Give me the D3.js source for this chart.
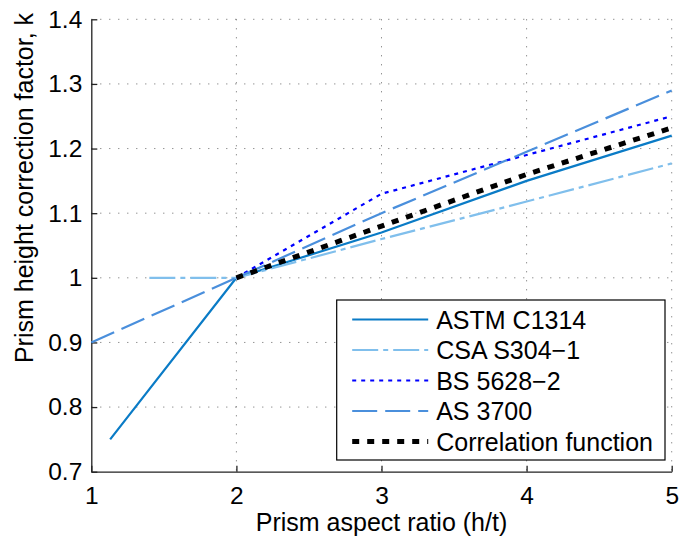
<!DOCTYPE html>
<html>
<head>
<meta charset="utf-8">
<script src="https://cdn.jsdelivr.net/npm/d3@7"></script>
<style>
    body { margin: 0; background: #fff; }
    svg { font-family: "Liberation Sans", Arial, sans-serif; }
</style>
</head>
<body>
<div class="chart"></div>
<script>
        // data
        var xTicks = [1, 2, 3, 4, 5];
        var yTicks = [0.7, 0.8, 0.9, 1.0, 1.1, 1.2, 1.3, 1.4];

        var astmX = [1.13, 2, 3, 4, 5];
        var astmY = [0.75, 1.0, 1.07, 1.15, 1.22];
        var csaX = [1.4, 2, 3, 4, 5];
        var csaY = [1.0, 1.0, 1.06, 1.118, 1.177];
        var bsX = [2, 3, 4, 5];
        var bsY = [1.0, 1.13, 1.19, 1.25];
        var asX = [1, 2, 3, 4, 5];
        var asY = [0.9, 1.0, 1.1, 1.195, 1.29];
        var corrX = [2, 3, 4, 5];
        var corrY = [1.0, 1.08, 1.16, 1.232];

        var seriesNames = ["ASTM C1314", "CSA S304\u22121", "BS 5628\u22122", "AS 3700", "Correlation function"];

        // line styles, same order as the names
        var styles = [
            { color: "#0a7bc6", width: 2.2, dash: null },
            { color: "#80bfec", width: 2.2, dash: "26,5,5,5" },
            { color: "#0000ff", width: 2.2, dash: "4,5" },
            { color: "#4a8fdc", width: 2.2, dash: "25,8" },
            { color: "#000000", width: 5, dash: "7,8" }
        ];

        function zip(xs, ys) {
            return xs.map(function (d, i) { return [d, ys[i]] })
        }
        var seriesData = [zip(astmX, astmY), zip(csaX, csaY), zip(bsX, bsY), zip(asX, asY), zip(corrX, corrY)];

        var W = 680, H = 540;
        var margin = { top: 19.3, right: 8.3, bottom: 68.3, left: 91.3 };
        var width = W - margin.left - margin.right;
        var height = H - margin.top - margin.bottom;

        var svg = d3.select(".chart")
            .append("svg")
            .attr("width", W)
            .attr("height", H)

        var g = svg.append("g")
            .attr("transform", "translate(" + margin.left + "," + margin.top + ")")

        //scales
        var x = d3.scaleLinear()
            .domain([1, 5])
            .range([0, width]);
        var y = d3.scaleLinear()
            .domain([0.7, 1.4])
            .range([height, 0]);

        //dotted grid
        g.selectAll(".hgrid")
            .data(yTicks.slice(1))
            .enter()
            .append("line")
            .attr("x1", 0)
            .attr("x2", width)
            .attr("y1", function (d) { return y(d) })
            .attr("y2", function (d) { return y(d) })
            .attr("stroke", "#666")
            .attr("stroke-width", 1)
            .attr("stroke-dasharray", "1,8")
        g.selectAll(".vgrid")
            .data(xTicks.slice(1))
            .enter()
            .append("line")
            .attr("y1", 0)
            .attr("y2", height)
            .attr("x1", function (d) { return x(d) })
            .attr("x2", function (d) { return x(d) })
            .attr("stroke", "#666")
            .attr("stroke-width", 1)
            .attr("stroke-dasharray", "1,8")

        //axes
        var xAxis = g.append("g")
            .attr("transform", "translate(0," + height + ")")
            .call(d3.axisBottom(x).tickValues(xTicks).tickSizeInner(-6).tickSizeOuter(0).tickPadding(15)
                .tickFormat(function (d) { return d }))
        var yAxis = g.append("g")
            .call(d3.axisLeft(y).tickValues(yTicks).tickSizeInner(-6).tickSizeOuter(0).tickPadding(9)
                .tickFormat(function (d) { return d }))

        svg.selectAll(".tick text")
            .attr("font-size", "24.5px")
            .attr("font-family", "Liberation Sans, Arial, sans-serif")
            .attr("fill", "#000")
        svg.selectAll(".domain, .tick line")
            .attr("stroke", "#222")
            .attr("stroke-width", 1.3)

        //series lines
        var line = d3.line()
            .x(function (d) { return x(d[0]) })
            .y(function (d) { return y(d[1]) })

        g.selectAll(".series")
            .data(seriesData)
            .enter()
            .append("path")
            .attr("class", "series")
            .attr("d", line)
            .attr("fill", "none")
            .attr("stroke", function (d, i) { return styles[i].color })
            .attr("stroke-width", function (d, i) { return styles[i].width })
            .attr("stroke-dasharray", function (d, i) { return styles[i].dash })

        //axis labels
        svg.append("text")
            .attr("x", margin.left + width / 2)
            .attr("y", 530.5)
            .attr("text-anchor", "middle")
            .attr("font-size", "25px")
            .text("Prism aspect ratio (h/t)")
        svg.append("text")
            .attr("transform", "translate(32.5,188) rotate(-90)")
            .attr("text-anchor", "middle")
            .attr("font-size", "25px")
            .text("Prism height correction factor, k")

        //legend
        var legend = svg.append("g")
            .attr("transform", "translate(336.7,300)")
        legend.append("rect")
            .attr("width", 328.3)
            .attr("height", 160)
            .attr("fill", "#fff")
            .attr("stroke", "#000")
            .attr("stroke-width", 1.2)

        legend.selectAll(".legLine")
            .data(seriesNames)
            .enter()
            .append("line")
            .attr("x1", 15.5)
            .attr("x2", 91.5)
            .attr("y1", function (d, i) { return 19.5 + i * 30.5 })
            .attr("y2", function (d, i) { return 19.5 + i * 30.5 })
            .attr("stroke", function (d, i) { return styles[i].color })
            .attr("stroke-width", function (d, i) { return styles[i].width })
            .attr("stroke-dasharray", function (d, i) { return styles[i].dash })

        legend.selectAll(".legText")
            .data(seriesNames)
            .enter()
            .append("text")
            .attr("x", 99.5)
            .attr("y", function (d, i) { return 19.5 + i * 30.5 })
            .attr("dy", "0.36em")
            .attr("font-size", "25px")
            .text(function (d) { return d })
</script>
</body>
</html>
